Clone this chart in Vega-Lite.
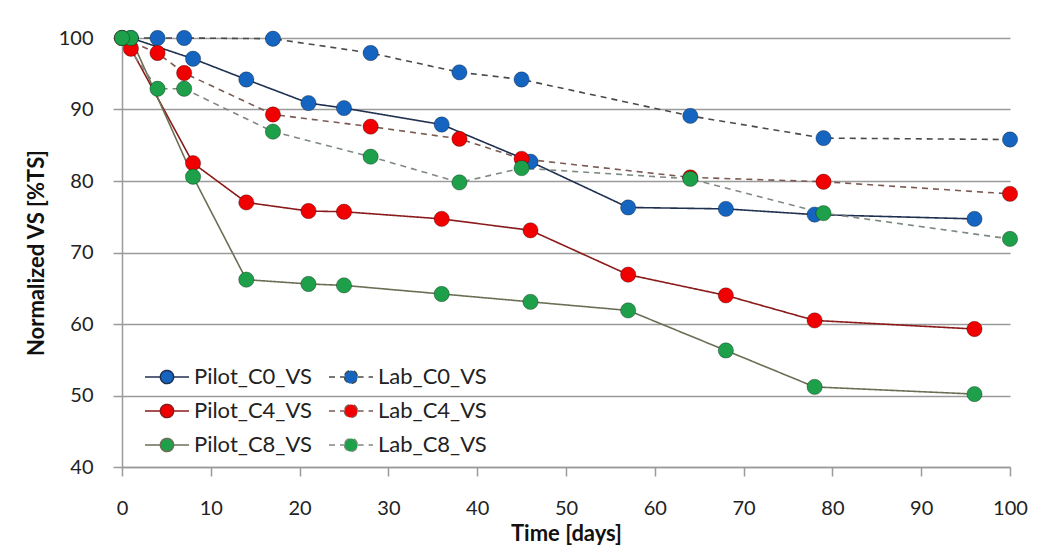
{
  "$schema": "https://vega.github.io/schema/vega-lite/v6.json",
  "width": 888,
  "height": 429,
  "autosize": {"type": "none"},
  "padding": {"left": 122, "top": 38, "right": 47, "bottom": 83},
  "background": "white",
  "config": {"font": "Lato", "view": {"stroke": null}},
  "data": {
    "values": [
      {"series": "Pilot_C0_VS", "day": 1, "vs": 100},
      {"series": "Pilot_C0_VS", "day": 8, "vs": 97.1},
      {"series": "Pilot_C0_VS", "day": 14, "vs": 94.2},
      {"series": "Pilot_C0_VS", "day": 21, "vs": 90.9},
      {"series": "Pilot_C0_VS", "day": 25, "vs": 90.2},
      {"series": "Pilot_C0_VS", "day": 36, "vs": 87.9},
      {"series": "Pilot_C0_VS", "day": 46, "vs": 82.7},
      {"series": "Pilot_C0_VS", "day": 57, "vs": 76.3},
      {"series": "Pilot_C0_VS", "day": 68, "vs": 76.1},
      {"series": "Pilot_C0_VS", "day": 78, "vs": 75.3},
      {"series": "Pilot_C0_VS", "day": 96, "vs": 74.7},
      {"series": "Lab_C0_VS", "day": 0, "vs": 100},
      {"series": "Lab_C0_VS", "day": 4, "vs": 100},
      {"series": "Lab_C0_VS", "day": 7, "vs": 100},
      {"series": "Lab_C0_VS", "day": 17, "vs": 99.9},
      {"series": "Lab_C0_VS", "day": 28, "vs": 97.9},
      {"series": "Lab_C0_VS", "day": 38, "vs": 95.2},
      {"series": "Lab_C0_VS", "day": 45, "vs": 94.2},
      {"series": "Lab_C0_VS", "day": 64, "vs": 89.1},
      {"series": "Lab_C0_VS", "day": 79, "vs": 86.0},
      {"series": "Lab_C0_VS", "day": 100, "vs": 85.8},
      {"series": "Pilot_C4_VS", "day": 1, "vs": 98.5},
      {"series": "Pilot_C4_VS", "day": 8, "vs": 82.5},
      {"series": "Pilot_C4_VS", "day": 14, "vs": 77.0},
      {"series": "Pilot_C4_VS", "day": 21, "vs": 75.8},
      {"series": "Pilot_C4_VS", "day": 25, "vs": 75.7},
      {"series": "Pilot_C4_VS", "day": 36, "vs": 74.7},
      {"series": "Pilot_C4_VS", "day": 46, "vs": 73.1},
      {"series": "Pilot_C4_VS", "day": 57, "vs": 66.9},
      {"series": "Pilot_C4_VS", "day": 68, "vs": 64.0},
      {"series": "Pilot_C4_VS", "day": 78, "vs": 60.5},
      {"series": "Pilot_C4_VS", "day": 96, "vs": 59.3},
      {"series": "Lab_C4_VS", "day": 0, "vs": 100},
      {"series": "Lab_C4_VS", "day": 4, "vs": 97.9},
      {"series": "Lab_C4_VS", "day": 7, "vs": 95.1},
      {"series": "Lab_C4_VS", "day": 17, "vs": 89.3},
      {"series": "Lab_C4_VS", "day": 28, "vs": 87.6},
      {"series": "Lab_C4_VS", "day": 38, "vs": 85.9},
      {"series": "Lab_C4_VS", "day": 45, "vs": 83.1},
      {"series": "Lab_C4_VS", "day": 64, "vs": 80.5},
      {"series": "Lab_C4_VS", "day": 79, "vs": 79.9},
      {"series": "Lab_C4_VS", "day": 100, "vs": 78.2},
      {"series": "Pilot_C8_VS", "day": 1, "vs": 100},
      {"series": "Pilot_C8_VS", "day": 8, "vs": 80.6},
      {"series": "Pilot_C8_VS", "day": 14, "vs": 66.2},
      {"series": "Pilot_C8_VS", "day": 21, "vs": 65.6},
      {"series": "Pilot_C8_VS", "day": 25, "vs": 65.4},
      {"series": "Pilot_C8_VS", "day": 36, "vs": 64.2},
      {"series": "Pilot_C8_VS", "day": 46, "vs": 63.1},
      {"series": "Pilot_C8_VS", "day": 57, "vs": 61.9},
      {"series": "Pilot_C8_VS", "day": 68, "vs": 56.3},
      {"series": "Pilot_C8_VS", "day": 78, "vs": 51.2},
      {"series": "Pilot_C8_VS", "day": 96, "vs": 50.2},
      {"series": "Lab_C8_VS", "day": 0, "vs": 100},
      {"series": "Lab_C8_VS", "day": 4, "vs": 92.9},
      {"series": "Lab_C8_VS", "day": 7, "vs": 92.9},
      {"series": "Lab_C8_VS", "day": 17, "vs": 86.9},
      {"series": "Lab_C8_VS", "day": 28, "vs": 83.4},
      {"series": "Lab_C8_VS", "day": 38, "vs": 79.8},
      {"series": "Lab_C8_VS", "day": 45, "vs": 81.8},
      {"series": "Lab_C8_VS", "day": 64, "vs": 80.3},
      {"series": "Lab_C8_VS", "day": 79, "vs": 75.5},
      {"series": "Lab_C8_VS", "day": 100, "vs": 71.9}
    ]
  },
  "encoding": {
    "x": {
      "field": "day",
      "type": "quantitative",
      "scale": {"domain": [0, 100], "nice": false},
      "axis": {
        "title": "Time [days]",
        "titleFont": "Lato",
        "titleFontSize": 22,
        "titleFontWeight": "bold",
        "titleColor": "#111111",
        "titlePadding": 5,
        "values": [0, 10, 20, 30, 40, 50, 60, 70, 80, 90, 100],
        "labelFont": "Lato",
        "labelFontSize": 20,
        "labelColor": "#222222",
        "labelPadding": 22,
        "labelFlush": false,
        "tickSize": 9,
        "tickColor": "#9A9A9A",
        "tickWidth": 1.5,
        "domainColor": "#9A9A9A",
        "domainWidth": 1.5,
        "grid": false
      }
    },
    "y": {
      "field": "vs",
      "type": "quantitative",
      "scale": {"domain": [40, 100], "nice": false},
      "axis": {
        "title": "Normalized VS [%TS]",
        "titleFont": "Lato",
        "titleFontSize": 22,
        "titleFontWeight": "bold",
        "titleColor": "#111111",
        "titlePadding": 10,
        "values": [40, 50, 60, 70, 80, 90, 100],
        "labelFont": "Lato",
        "labelFontSize": 20,
        "labelColor": "#222222",
        "labelPadding": 20,
        "labelFlush": false,
        "tickSize": 9,
        "tickColor": "#9A9A9A",
        "tickWidth": 1.5,
        "domainColor": "#9A9A9A",
        "domainWidth": 1.5,
        "grid": true,
        "gridColor": "#9A9A9A",
        "gridWidth": 1.5
      }
    }
  },
  "layer": [
    {
      "mark": {"type": "line", "strokeWidth": 1.6},
      "encoding": {
        "detail": {"field": "series", "type": "nominal"},
        "stroke": {
          "field": "series",
          "type": "nominal",
          "scale": {
            "domain": ["Pilot_C0_VS", "Pilot_C4_VS", "Pilot_C8_VS", "Lab_C0_VS", "Lab_C4_VS", "Lab_C8_VS"],
            "range": ["#1F3050", "#8B1A1A", "#6B6F55", "#4A4A4A", "#7A5A52", "#7E8A80"]
          }
        },
        "strokeDash": {
          "field": "series",
          "type": "nominal",
          "scale": {
            "domain": ["Pilot_C0_VS", "Pilot_C4_VS", "Pilot_C8_VS", "Lab_C0_VS", "Lab_C4_VS", "Lab_C8_VS"],
            "range": [[1, 0], [1, 0], [1, 0], [6, 5], [6, 5], [6, 5]]
          }
        }
      }
    },
    {
      "mark": {"type": "point", "filled": true, "opacity": 1, "size": 235, "stroke": "#000000", "strokeOpacity": 0.3, "strokeWidth": 1},
      "encoding": {
        "fill": {
          "field": "series",
          "type": "nominal",
          "scale": {
            "domain": ["Pilot_C0_VS", "Pilot_C4_VS", "Pilot_C8_VS", "Lab_C0_VS", "Lab_C4_VS", "Lab_C8_VS"],
            "range": ["#1565C0", "#F00000", "#1EA04A", "#1565C0", "#F00000", "#1EA04A"]
          },
          "legend": {
            "orient": "none",
            "legendX": 22,
            "legendY": 316,
            "columns": 2,
            "title": null,
            "labelFont": "Lato",
            "labelFontSize": 22,
            "labelColor": "#222222",
            "labelOffset": 4,
            "symbolType": "M-1,0 L-0.3,0 M0.3,0 L1,0 M-0.3,0 A0.3,0.3 0 1,0 0.3,0 A0.3,0.3 0 1,0 -0.3,0 Z",
            "symbolSize": 1936,
            "symbolStrokeWidth": 1.5,
            "symbolOpacity": 1,
            "columnPadding": 14,
            "rowPadding": 0
          }
        }
      }
    }
  ]
}
